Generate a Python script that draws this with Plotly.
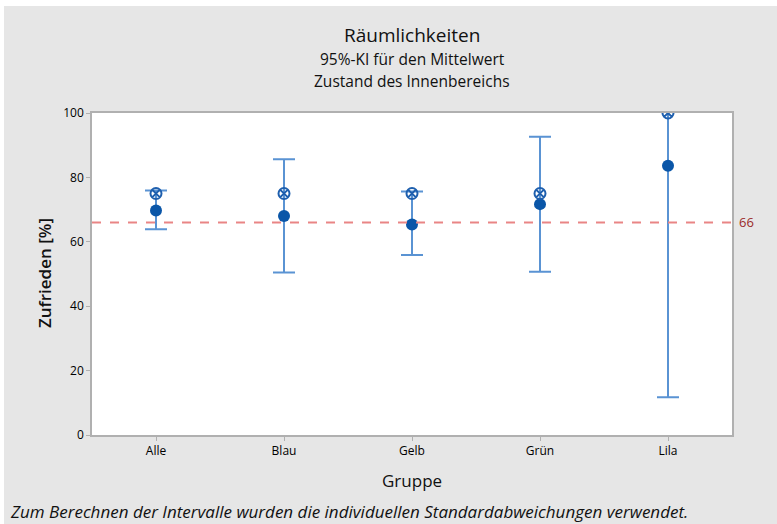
import plotly.graph_objects as go

groups = ["Alle", "Blau", "Gelb", "Grün", "Lila"]
means = [69.7, 68.0, 65.4, 71.7, 83.6]
lower = [63.9, 50.5, 55.9, 50.7, 11.7]
upper = [75.9, 85.6, 75.6, 92.6, 155.5]
medians = [75.0, 75.0, 75.0, 75.0, 100.0]
ref_value = 66
y_ticks = [0, 20, 40, 60, 80, 100]

W, H = 777, 524
L, R, T, B = 92, 45, 113, 89
PW, PH = W - L - R, H - T - B


def px(x):
    return (x - L) / PW


def py(y):
    return (H - B - y) / PH


font_family = "Open Sans, Noto Sans, sans-serif"
txt = "#111111"

fig = go.Figure()

fig.add_trace(go.Scatter(
    x=groups, y=means, mode="markers",
    marker=dict(size=12, color="#0a56a8"),
    error_y=dict(
        type="data", symmetric=False,
        array=[u - m for u, m in zip(upper, means)],
        arrayminus=[m - l for m, l in zip(means, lower)],
        color="#5a93d3", thickness=2, width=11,
    ),
    showlegend=False,
))

fig.add_trace(go.Scatter(
    x=groups, y=medians, mode="markers",
    marker=dict(symbol="circle-x-open", size=11, color="#1e5fae",
                line=dict(width=2, color="#1e5fae")),
    showlegend=False,
))

fig.add_shape(type="line", xref="paper", x0=0, x1=1, yref="y",
              y0=ref_value, y1=ref_value,
              line=dict(color="#e98585", width=2, dash="dash"))

annotations = [
    dict(text="Räumlichkeiten", x=0.5, y=py(35), font=dict(size=19, color=txt)),
    dict(text="95%-KI für den Mittelwert", x=0.5, y=py(59), font=dict(size=15.5, color=txt)),
    dict(text="Zustand des Innenbereichs", x=0.5, y=py(81), font=dict(size=15.5, color=txt)),
    dict(text="Zufrieden [%]", x=px(44), y=py(273), textangle=-90,
         font=dict(size=17, color=txt, weight=600)),
    dict(text="Gruppe", x=0.5, y=py(480), font=dict(size=17, color=txt)),
    dict(text="<i>Zum Berechnen der Intervalle wurden die individuellen Standardabweichungen verwendet.</i>",
         x=px(8), y=py(511), xanchor="left", font=dict(size=17, color=txt)),
    dict(text=str(ref_value), x=px(737), y=ref_value, yref="y", xanchor="left",
         font=dict(size=13, color="#9b2a2a")),
]
for a in annotations:
    a.setdefault("xref", "paper")
    a.setdefault("yref", "paper")
    a.setdefault("showarrow", False)
    a.setdefault("xanchor", "center")
    a.setdefault("yanchor", "middle")
    fig.add_annotation(**a)

# white frame strip at top and left of the image
fig.add_shape(type="rect", xref="paper", yref="paper",
              x0=px(0), x1=px(W), y0=py(6), y1=py(0),
              fillcolor="white", line=dict(width=0), layer="below")
fig.add_shape(type="rect", xref="paper", yref="paper",
              x0=px(0), x1=px(4), y0=py(H), y1=py(0),
              fillcolor="white", line=dict(width=0), layer="below")

fig.update_layout(
    width=W, height=H,
    margin=dict(l=L, r=R, t=T, b=B, autoexpand=False),
    paper_bgcolor="#e6e6e6",
    plot_bgcolor="white",
    font=dict(family=font_family, color=txt),
    xaxis=dict(
        range=[-0.5, 4.5], showgrid=False, zeroline=False,
        showline=True, linecolor="#b0b0b0", linewidth=1.5, mirror=True,
        ticks="outside", ticklen=4, tickcolor="#b0b0b0",
        tickfont=dict(size=12, color="#000000"),
    ),
    yaxis=dict(
        range=[0, 100], tickvals=y_ticks, showgrid=False, zeroline=False,
        showline=True, linecolor="#b0b0b0", linewidth=1.5, mirror=True,
        ticks="outside", ticklen=4, tickcolor="#b0b0b0",
        tickfont=dict(size=12, color="#000000"),
    ),
)

fig.write_html("out.html", config={"displayModeBar": False},
               post_script="document.body.style.margin='0';document.body.style.overflow='hidden';")
